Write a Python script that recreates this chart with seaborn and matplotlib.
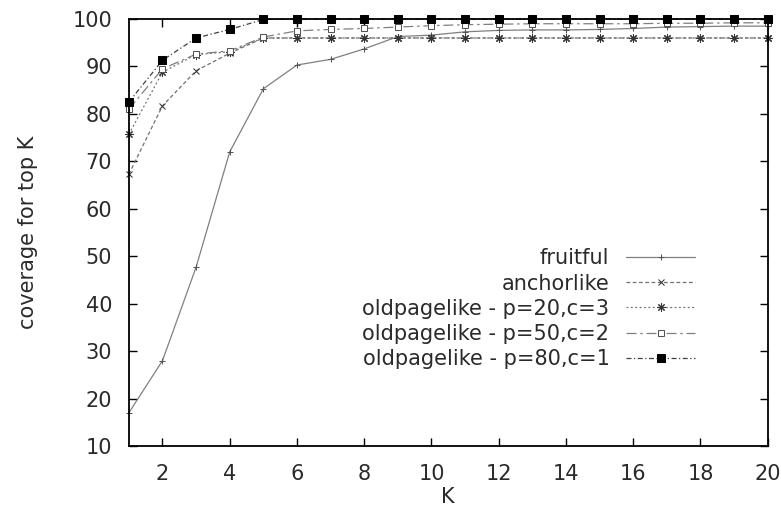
import pandas as pd
import numpy as np
import seaborn as sns
import matplotlib
matplotlib.use("Agg")
import matplotlib.pyplot as plt

# values
K = list(range(1, 21))
fruitful = [17.0, 28.0, 47.7, 72.0, 85.3, 90.3, 91.5, 93.7, 96.3, 96.6,
            97.3, 97.6, 97.7, 97.7, 97.8, 98.0, 98.3, 98.4, 98.5, 98.5]
anchorlike = [67.3, 81.7, 89.1, 92.8, 96.0, 96.0, 96.0, 96.0, 96.0, 96.0,
              96.0, 96.0, 96.0, 96.0, 96.0, 96.0, 96.0, 96.0, 96.0, 96.0]
old_p20 = [75.7, 88.8, 92.5, 93.1, 96.0, 96.0, 96.0, 96.0, 96.0, 96.0,
           96.0, 96.0, 96.0, 96.0, 96.0, 96.0, 96.0, 96.0, 96.0, 96.0]
old_p50 = [81.0, 89.5, 92.6, 93.3, 96.2, 97.5, 97.8, 98.0, 98.3, 98.6,
           98.8, 98.9, 99.0, 99.0, 99.0, 99.0, 99.1, 99.1, 99.2, 99.2]
old_p80 = [82.5, 91.3, 96.0, 97.8, 99.9, 100, 100, 100, 100, 100,
           100, 100, 100, 100, 100, 100, 100, 100, 100, 100]

labels = ["fruitful", "anchorlike", "oldpagelike - p=20,c=3",
          "oldpagelike - p=50,c=2", "oldpagelike - p=80,c=1"]
series = [fruitful, anchorlike, old_p20, old_p50, old_p80]

sns.set_style("ticks")
plt.rcParams["font.family"] = ["DejaVu Sans"]

fig = plt.figure(figsize=(7.81, 5.08), dpi=100)
ax = fig.add_axes([0.165, 0.122, 0.818, 0.8406])

# line styles roughly like gnuplot's monochrome terminal
styles = [
    dict(color="#808080", linestyle="-", marker="+", markersize=5, mec="#555555"),
    dict(color="#707070", linestyle=(0, (3, 2)), marker="x", markersize=5, mec="#333333"),
    dict(color="#707070", linestyle=(0, (1.5, 2)), marker=(8, 2, 0), markersize=6, mec="#333333"),
    dict(color="#808080", linestyle=(0, (8, 3, 2, 3)), marker="s", markersize=5,
         mfc="white", mec="#555555"),
    dict(color="#404040", linestyle=(0, (4, 2, 1, 2)), marker="s", markersize=6,
         mfc="black", mec="black"),
]

for name, vals, st in zip(labels, series, styles):
    sns.lineplot(x=K, y=vals, ax=ax, label=name, linewidth=0.9,
                 clip_on=False, **st)

ax.set_xlim(1, 20)
ax.set_ylim(10, 100)
ax.set_xticks(range(2, 21, 2))
ax.set_yticks(range(10, 101, 10))
ax.tick_params(direction="in", top=True, right=True, length=6, width=1,
               labelsize=15, color="black", labelcolor="#2a2a2a")
ax.tick_params(axis="y", pad=12)
ax.tick_params(axis="x", pad=13)
for s in ax.spines.values():
    s.set_visible(True)
    s.set_linewidth(1.3)
    s.set_color("black")

ax.set_xlabel("K", fontsize=15, labelpad=2, color="#2a2a2a")
ax.set_ylabel("coverage for top K", fontsize=15, labelpad=25, color="#2a2a2a")

leg = ax.legend(loc="lower right", bbox_to_anchor=(0.886, 0.18), frameon=False,
                markerfirst=False, fontsize=15, handlelength=3.3,
                handletextpad=0.8, labelspacing=0.25, borderpad=0,
                borderaxespad=0)
for t in leg.get_texts():
    t.set_color("#2a2a2a")

fig.savefig("out.png", dpi=100)
